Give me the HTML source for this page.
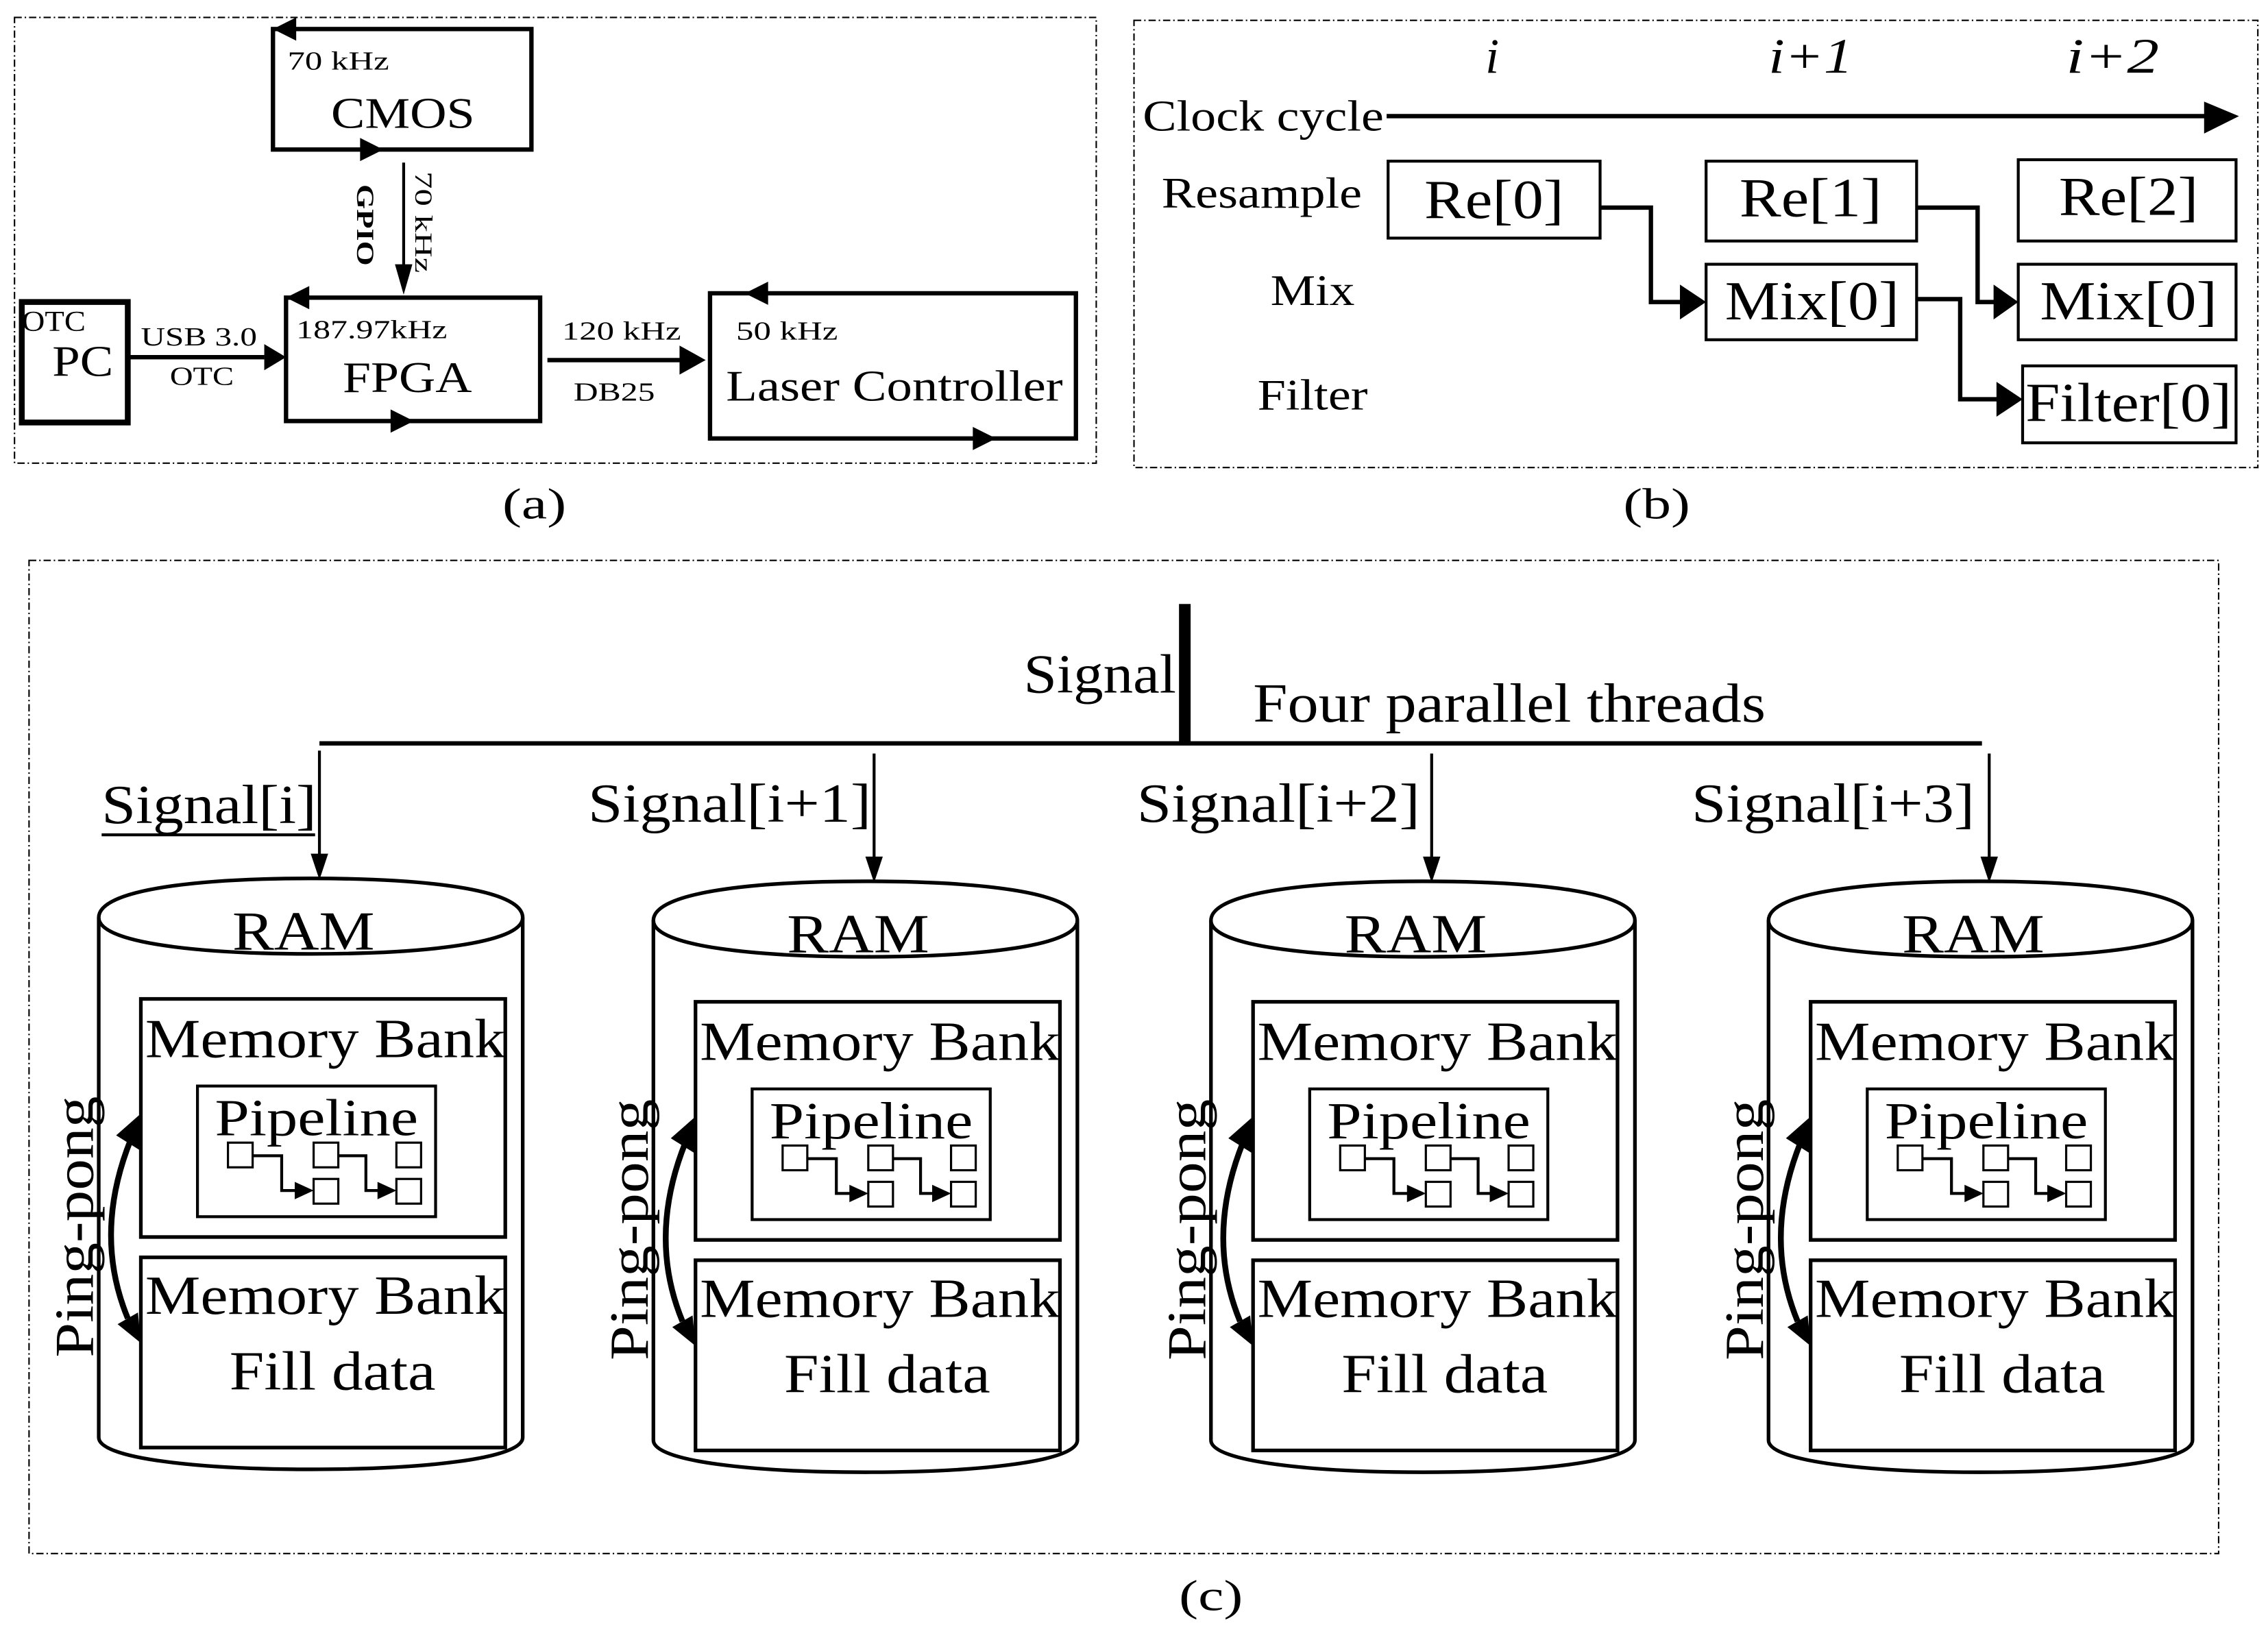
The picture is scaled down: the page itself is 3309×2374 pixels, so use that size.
<!DOCTYPE html>
<html><head><meta charset="utf-8"><style>
html,body{margin:0;padding:0;background:#fff;}
svg{display:block;}
text{font-family:"Liberation Serif","Times New Roman",serif;fill:#000;}
</style></head><body>
<svg width="3309" height="2374" viewBox="0 0 1562 1120.6" preserveAspectRatio="none" xmlns="http://www.w3.org/2000/svg">
<g fill="none" stroke="#000">
<rect x="10" y="12" width="745" height="307" stroke-width="1" stroke-dasharray="5,2,1,2"/>
<rect x="188" y="20" width="178" height="83" stroke-width="3"/>
<rect x="197" y="205" width="175" height="85" stroke-width="3"/>
<rect x="15" y="208" width="73" height="83" stroke-width="4"/>
<rect x="489" y="202" width="252" height="100" stroke-width="3"/>
<line x1="88" y1="246" x2="182" y2="246" stroke-width="3"/>
<line x1="377" y1="248" x2="470" y2="248" stroke-width="3"/>
<line x1="278" y1="112" x2="278" y2="185" stroke-width="2"/>
</g>
<g fill="#000">
<path d="M182,237 L197,246 L182,255z"/>
<path d="M468,238 L486,248 L468,258z"/>
<path d="M272,182 L278,203 L284,182z"/>
<path d="M188,20 L204,12 L204,28z"/>
<path d="M264,103 L248,95 L248,111z"/>
<path d="M197,205 L213,197 L213,213z"/>
<path d="M285,290 L269,282 L269,298z"/>
<path d="M513,202 L529,194 L529,210z"/>
<path d="M686,302 L670,294 L670,310z"/>
</g>
<g font-size="18">
<text x="198" y="48" textLength="70" lengthAdjust="spacingAndGlyphs">70 kHz</text>
<text x="204" y="233" textLength="104" lengthAdjust="spacingAndGlyphs">187.97kHz</text>
<text x="387" y="234" textLength="82" lengthAdjust="spacingAndGlyphs">120 kHz</text>
<text x="395" y="276" textLength="56" lengthAdjust="spacingAndGlyphs">DB25</text>
<text x="507" y="234" textLength="70" lengthAdjust="spacingAndGlyphs">50 kHz</text>
<text x="97" y="238" textLength="80" lengthAdjust="spacingAndGlyphs">USB 3.0</text>
<text x="117" y="265" textLength="44" lengthAdjust="spacingAndGlyphs">OTC</text>
<text x="15" y="228" font-size="20" textLength="44" lengthAdjust="spacingAndGlyphs">OTC</text>
<text x="246" y="127" transform="rotate(90 246 127)" font-size="17" font-weight="bold" textLength="56" lengthAdjust="spacingAndGlyphs">GPIO</text>
<text x="286" y="118" transform="rotate(90 286 118)" font-size="17" textLength="70" lengthAdjust="spacingAndGlyphs">70 kHz</text>
</g>
<text x="228" y="88" font-size="30" textLength="99" lengthAdjust="spacingAndGlyphs">CMOS</text>
<text x="236" y="270" font-size="30" textLength="89" lengthAdjust="spacingAndGlyphs">FPGA</text>
<text x="36" y="259" font-size="30" textLength="42" lengthAdjust="spacingAndGlyphs">PC</text>
<text x="500" y="276" font-size="30" textLength="232" lengthAdjust="spacingAndGlyphs">Laser Controller</text>
<text x="346" y="357" font-size="30" textLength="44" lengthAdjust="spacingAndGlyphs">(a)</text>

<g fill="none" stroke="#000">
<rect x="781" y="14" width="774" height="308" stroke-width="1" stroke-dasharray="5,2,1,2"/>
<line x1="955" y1="80" x2="1520" y2="80" stroke-width="3"/>
<rect x="956" y="111" width="146" height="53" stroke-width="2"/>
<rect x="1175" y="111" width="145" height="55" stroke-width="2"/>
<rect x="1390" y="110" width="150" height="56" stroke-width="2"/>
<rect x="1175" y="182" width="145" height="52" stroke-width="2"/>
<rect x="1390" y="182" width="150" height="52" stroke-width="2"/>
<rect x="1393" y="252" width="147" height="53" stroke-width="2"/>
<polyline points="1102,143 1137,143 1137,208 1160,208" stroke-width="3"/>
<polyline points="1320,143 1362,143 1362,208 1376,208" stroke-width="3"/>
<polyline points="1320,206 1350,206 1350,275 1378,275" stroke-width="3"/>
</g>
<g fill="#000">
<path d="M1518,70 L1542,80 L1518,92z"/>
<path d="M1157,196 L1175,208 L1157,220z"/>
<path d="M1373,196 L1390,208 L1373,220z"/>
<path d="M1375,263 L1393,275 L1375,287z"/>
</g>
<g font-style="italic" font-size="34">
<text x="1023" y="50">i</text>
<text x="1218" y="50" textLength="58" lengthAdjust="spacingAndGlyphs">i+1</text>
<text x="1423" y="50" textLength="64" lengthAdjust="spacingAndGlyphs">i+2</text>
</g>
<g font-size="30">
<text x="787" y="90" textLength="166" lengthAdjust="spacingAndGlyphs">Clock cycle</text>
<text x="800" y="143" textLength="138" lengthAdjust="spacingAndGlyphs">Resample</text>
<text x="875" y="210" textLength="58" lengthAdjust="spacingAndGlyphs">Mix</text>
<text x="866" y="282" textLength="76" lengthAdjust="spacingAndGlyphs">Filter</text>
</g>
<g font-size="38">
<text x="981" y="150" textLength="96" lengthAdjust="spacingAndGlyphs">Re[0]</text>
<text x="1198" y="149" textLength="98" lengthAdjust="spacingAndGlyphs">Re[1]</text>
<text x="1418" y="148" textLength="96" lengthAdjust="spacingAndGlyphs">Re[2]</text>
<text x="1188" y="220" textLength="120" lengthAdjust="spacingAndGlyphs">Mix[0]</text>
<text x="1405" y="220" textLength="122" lengthAdjust="spacingAndGlyphs">Mix[0]</text>
<text x="1395" y="290" textLength="142" lengthAdjust="spacingAndGlyphs">Filter[0]</text>
</g>
<text x="1118" y="357" font-size="30" textLength="46" lengthAdjust="spacingAndGlyphs">(b)</text>

<rect x="20" y="386" width="1508" height="684" fill="none" stroke="#000" stroke-width="1" stroke-dasharray="5,2,1,2"/>
<rect x="812" y="416" width="8" height="96" fill="#000"/>
<line x1="220" y1="512" x2="1365" y2="512" stroke="#000" stroke-width="3"/>
<text x="705" y="477" font-size="38" textLength="105" lengthAdjust="spacingAndGlyphs">Signal</text>
<text x="863" y="497" font-size="38" textLength="353" lengthAdjust="spacingAndGlyphs">Four parallel threads</text>
<g font-size="38">
<text x="70" y="567" textLength="148" lengthAdjust="spacingAndGlyphs">Signal[i]</text>
<line x1="70" y1="575" x2="217" y2="575" stroke="#000" stroke-width="2"/>
<text x="405" y="566" textLength="195" lengthAdjust="spacingAndGlyphs">Signal[i+1]</text>
<text x="783" y="566" textLength="195" lengthAdjust="spacingAndGlyphs">Signal[i+2]</text>
<text x="1165" y="566" textLength="195" lengthAdjust="spacingAndGlyphs">Signal[i+3]</text>
</g>
<g id="cyl">
<line x1="220" y1="517" x2="220" y2="590" stroke="#000" stroke-width="2"/>
<path d="M214,588 L220,606 L226,588z"/>
<path d="M68,632 C68,612 140,605 214,605 C290,605 360,612 360,632 L360,990 C360,1005 290,1012 214,1012 C140,1012 68,1005 68,990 Z" fill="none" stroke="#000" stroke-width="2.5"/>
<path d="M68,632 C68,650 140,657 214,657 C290,657 360,650 360,632" fill="none" stroke="#000" stroke-width="2.5"/>
<text x="160" y="654" font-size="38" textLength="98" lengthAdjust="spacingAndGlyphs">RAM</text>
<rect x="97" y="688" width="251" height="164" fill="none" stroke="#000" stroke-width="2.5"/>
<rect x="97" y="866" width="251" height="131" fill="none" stroke="#000" stroke-width="2.5"/>
<text x="100" y="728" font-size="38" textLength="248" lengthAdjust="spacingAndGlyphs">Memory Bank</text>
<text x="100" y="905" font-size="38" textLength="248" lengthAdjust="spacingAndGlyphs">Memory Bank</text>
<text x="158" y="957" font-size="38" textLength="142" lengthAdjust="spacingAndGlyphs">Fill data</text>
<rect x="136" y="748" width="164" height="90" fill="none" stroke="#000" stroke-width="2"/>
<text x="148" y="782" font-size="36" textLength="140" lengthAdjust="spacingAndGlyphs">Pipeline</text>
<g fill="none" stroke="#000" stroke-width="1.5">
<rect x="157" y="787" width="17" height="17"/>
<rect x="216" y="787" width="17" height="17"/>
<rect x="216" y="812" width="17" height="17"/>
<rect x="273" y="787" width="17" height="17"/>
<rect x="273" y="812" width="17" height="17"/>
<polyline points="174,796 194,796 194,820 206,820" stroke-width="2"/>
<polyline points="233,796 252,796 252,820 263,820" stroke-width="2"/>
</g>
<path d="M203,814 L216,820 L203,826z"/>
<path d="M260,814 L273,820 L260,826z"/>
<text x="64" y="935" font-size="38" transform="rotate(-90 64 935)" textLength="180" lengthAdjust="spacingAndGlyphs">Ping-pong</text>
<path d="M90,785 Q64,850 88,908" fill="none" stroke="#000" stroke-width="4"/>
<path d="M97,767 L80,782 L96,792z"/>
<path d="M97,925 L81,912 L95,904z"/>
</g>
<use href="#cyl" x="382" y="2"/>
<use href="#cyl" x="766" y="2"/>
<use href="#cyl" x="1150" y="2"/>
<text x="812" y="1109" font-size="30" textLength="44" lengthAdjust="spacingAndGlyphs">(c)</text>
</svg>
</body></html>
